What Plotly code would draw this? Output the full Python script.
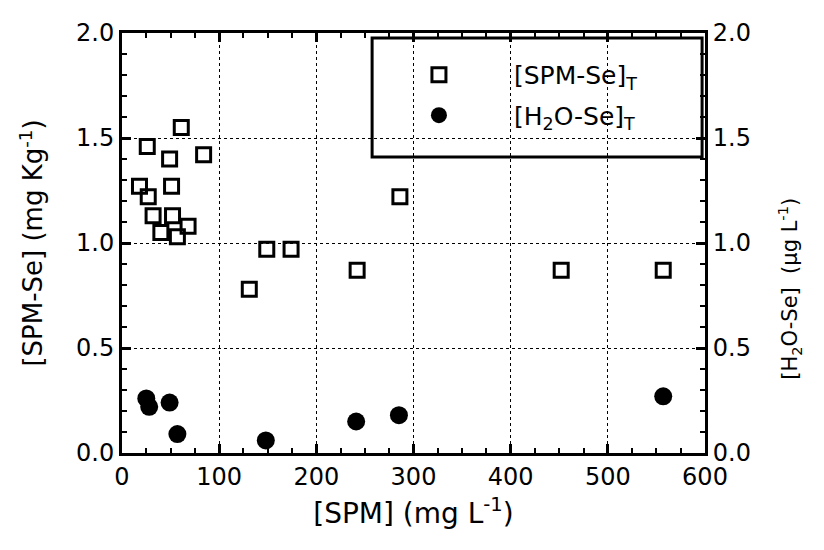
import plotly.graph_objects as go

# [SPM] (mg/L) vs particulate Se (mg/kg)
spm_x = [18, 26, 27, 32, 40, 49, 51, 52, 57, 61, 68, 84, 131, 149, 174, 242, 286, 452, 557]
spm_se = [1.27, 1.46, 1.22, 1.13, 1.05, 1.40, 1.27, 1.13, 1.03, 1.55, 1.08, 1.42, 0.78, 0.97, 0.97, 0.87, 1.22, 0.87, 0.87]

# [SPM] (mg/L) vs dissolved Se (ug/L)
h2o_x = [25, 28, 49, 57, 148, 241, 285, 557]
h2o_se = [0.26, 0.22, 0.24, 0.09, 0.06, 0.15, 0.18, 0.27]

x_ticks = [0, 100, 200, 300, 400, 500, 600]
y_ticks = [0.0, 0.5, 1.0, 1.5, 2.0]
y_ticklabels = ["0.0", "0.5", "1.0", "1.5", "2.0"]

font_name = "DejaVu Sans"

fig = go.Figure()

fig.add_trace(go.Scatter(
    x=spm_x, y=spm_se, mode="markers", name="[SPM-Se]<sub>T</sub>",
    legendgroup="spm",
    marker=dict(symbol="square-open", size=14, color="black", line=dict(width=3, color="black")),
))

fig.add_trace(go.Scatter(
    x=h2o_x, y=h2o_se, mode="markers", name="[H<sub>2</sub>O-Se]<sub>T</sub>",
    legendgroup="h2o", yaxis="y2",
    marker=dict(symbol="circle", size=18, color="black"),
))

axis_common = dict(
    showline=True, linewidth=3, linecolor="black",
    ticks="inside", ticklen=9, tickwidth=3, tickcolor="black",
    tickfont=dict(family=font_name, size=24, color="black"),
    zeroline=False,
)
minor_y = dict(dtick=0.1, ticks="inside", ticklen=5, tickwidth=2, tickcolor="black", showgrid=False)

# page body has an 8px margin, so margins are shifted to keep the plot box in place
fig.update_layout(
    width=824, height=550,
    margin=dict(l=114, r=127, t=25, b=105),
    paper_bgcolor="white", plot_bgcolor="white",
    font=dict(family=font_name, color="black"),
    xaxis=dict(
        range=[0, 600], tickvals=x_ticks, mirror="ticks",
        showgrid=True, gridcolor="black", griddash="dot", gridwidth=1,
        minor=dict(dtick=25, ticks="inside", ticklen=5, tickwidth=2, tickcolor="black", showgrid=False),
        title=dict(text="[SPM] (mg L<sup>-1</sup>)", font=dict(family=font_name, size=28), standoff=14),
        **axis_common,
    ),
    yaxis=dict(
        range=[0, 2.0], tickvals=y_ticks, ticktext=y_ticklabels,
        showgrid=True, gridcolor="black", griddash="dot", gridwidth=1,
        minor=minor_y,
        title=dict(text="[SPM-Se] (mg Kg<sup>-1</sup>)", font=dict(family=font_name, size=26), standoff=26),
        **axis_common,
    ),
    yaxis2=dict(
        range=[0, 2.0], tickvals=y_ticks, ticktext=y_ticklabels,
        overlaying="y", side="right", showgrid=False,
        minor=minor_y,
        **axis_common,
    ),
    legend=dict(
        x=0.415, y=0.955, xanchor="left", yanchor="top",
        bgcolor="rgba(0,0,0,0)", borderwidth=0,
        font=dict(family=font_name, size=25, color="black"),
        itemsizing="trace", itemwidth=140, tracegroupgap=5,
    ),
    shapes=[dict(
        type="rect", xref="paper", yref="paper",
        x0=0.429, x1=0.995, y0=0.705, y1=0.988,
        line=dict(color="black", width=3), fillcolor="white", layer="between",
    )],
    annotations=[dict(
        text="[H<sub>2</sub>O-Se]  (µg L<sup>-1</sup>)", textangle=-90,
        xref="paper", yref="paper", x=1.145, y=0.39, xanchor="center", yanchor="middle",
        showarrow=False, font=dict(family=font_name, size=21, color="black"),
    )],
)

fig.write_html("out.html")
